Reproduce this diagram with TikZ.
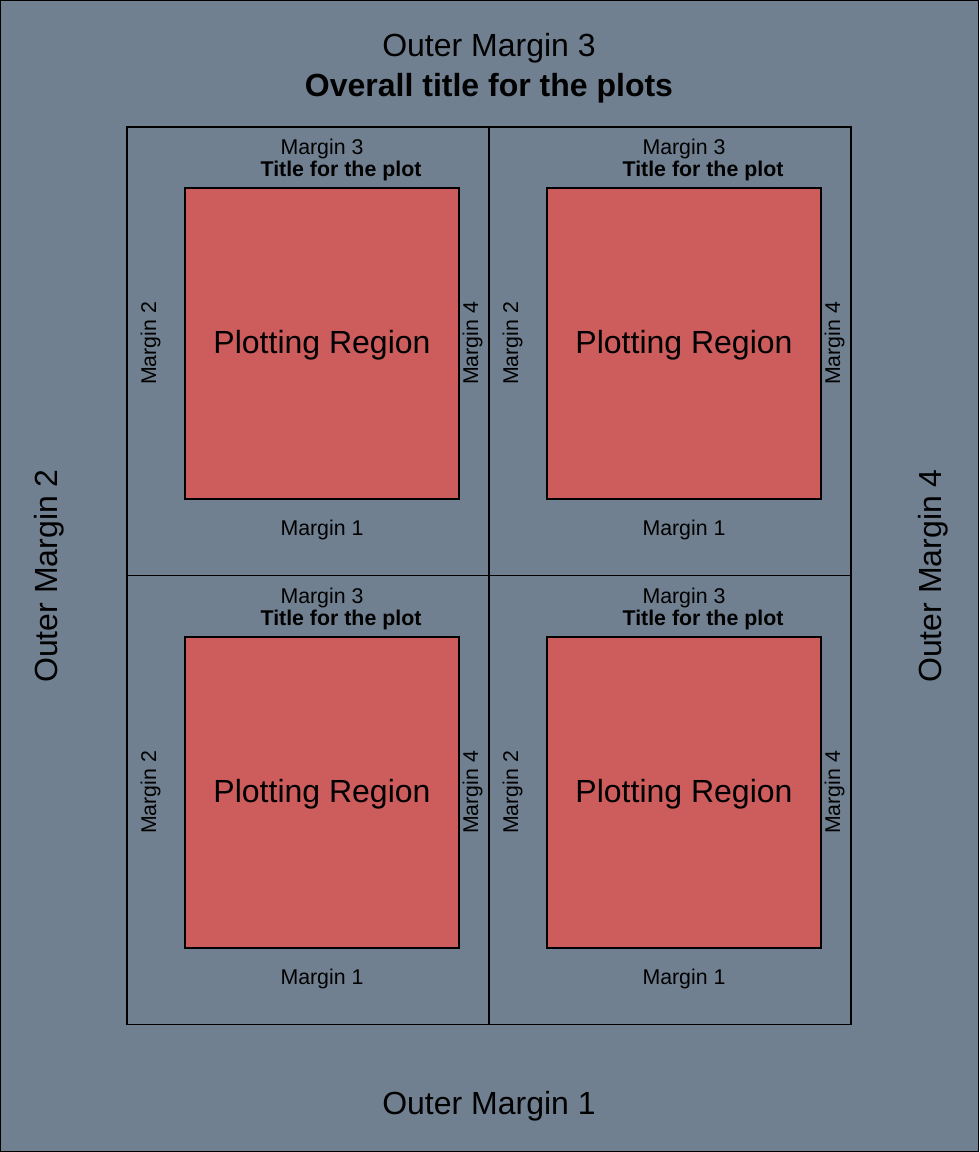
\documentclass[tikz,border=0pt]{standalone}
\usepackage{fontspec}
\setmainfont{Liberation Sans}
\usepackage{tikz}
\definecolor{slate}{RGB}{112, 128, 144}
\definecolor{plot_red}{RGB}{205, 92, 92}
\tikzstyle{cell}=[rectangle,draw=black,line width=1.1pt,inner sep=0pt,
  minimum width=271.5pt,minimum height=336.4pt]
\tikzstyle{region}=[rectangle,fill=plot_red,draw=black,line width=1.1pt,inner sep=0pt,
  minimum width=205.5pt,minimum height=233.25pt,font=\fontsize{24}{28}\selectfont,
  text height=20pt,text depth=4.6pt]
\tikzstyle{big}=[anchor=base,inner sep=0pt,font=\fontsize{24}{28}\selectfont]
\tikzstyle{bigbold}=[anchor=base,inner sep=0pt,font=\fontsize{24}{28}\selectfont\bfseries]
\tikzstyle{small}=[anchor=base,inner sep=0pt,font=\fontsize{16}{19}\selectfont]
\tikzstyle{smallbold}=[anchor=base,inner sep=0pt,font=\fontsize{16}{19}\selectfont\bfseries]
\tikzstyle{none}=[]
\begin{document}
\begin{tikzpicture}[x=0.75pt,y=0.75pt]
            \useasboundingbox (0, 0) rectangle (979, 1152);
            \fill [slate] (0, 0) rectangle (979, 1152);
            \draw [line width=0.9pt] (0.6, 0.6) rectangle (978.4, 1151.4);
            % outer margins
            \node [style=big] (om3) at (489, 1095) {Outer Margin 3};
            \node [style=bigbold] (title) at (489, 1055) {Overall title for the plots};
            \node [style=big] (om1) at (489, 37) {Outer Margin 1};
            \node [style=big, rotate=90] (om2) at (57, 576) {Outer Margin 2};
            \node [style=big, rotate=90] (om4) at (941, 576) {Outer Margin 4};
            % figure cells
            \node [style=cell] (c1) at (308, 800.5) {};
            \node [style=cell] (c2) at (670, 800.5) {};
            \node [style=cell] (c3) at (308, 352) {};
            \node [style=cell] (c4) at (670, 352) {};
            % top left
            \node [style=region] (p1) at (322, 808.5) {Plotting Region};
            \node [style=small] (m3a) at (322, 997) {Margin 3};
            \node [style=smallbold] (t1) at (341, 975) {Title for the plot};
            \node [style=small] (m1a) at (322, 616) {Margin 1};
            \node [style=small, rotate=90] (m2a) at (156, 808.5) {Margin 2};
            \node [style=small, rotate=90] (m4a) at (478, 808.5) {Margin 4};
            % top right
            \node [style=region] (p2) at (684, 808.5) {Plotting Region};
            \node [style=small] (m3b) at (684, 997) {Margin 3};
            \node [style=smallbold] (t2) at (703, 975) {Title for the plot};
            \node [style=small] (m1b) at (684, 616) {Margin 1};
            \node [style=small, rotate=90] (m2b) at (518, 808.5) {Margin 2};
            \node [style=small, rotate=90] (m4b) at (840, 808.5) {Margin 4};
            % bottom left
            \node [style=region] (p3) at (322, 359.5) {Plotting Region};
            \node [style=small] (m3c) at (322, 548) {Margin 3};
            \node [style=smallbold] (t3) at (341, 526) {Title for the plot};
            \node [style=small] (m1c) at (322, 167) {Margin 1};
            \node [style=small, rotate=90] (m2c) at (156, 359.5) {Margin 2};
            \node [style=small, rotate=90] (m4c) at (478, 359.5) {Margin 4};
            % bottom right
            \node [style=region] (p4) at (684, 359.5) {Plotting Region};
            \node [style=small] (m3d) at (684, 548) {Margin 3};
            \node [style=smallbold] (t4) at (703, 526) {Title for the plot};
            \node [style=small] (m1d) at (684, 167) {Margin 1};
            \node [style=small, rotate=90] (m2d) at (518, 359.5) {Margin 2};
            \node [style=small, rotate=90] (m4d) at (840, 359.5) {Margin 4};
\end{tikzpicture}
\end{document}
